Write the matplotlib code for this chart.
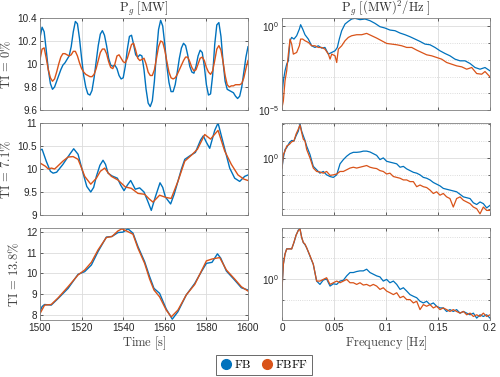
import numpy as np
import matplotlib
matplotlib.use("Agg")
import matplotlib.pyplot as plt
from matplotlib.ticker import FuncFormatter, NullFormatter
from matplotlib.lines import Line2D

plt.rcParams['mathtext.fontset'] = 'cm'
plt.rcParams['font.family'] = ['Liberation Sans', 'DejaVu Sans']

BLUE = '#0072BD'
ORANGE = '#D95319'

# ---------------- time series (Time [s], P_g [MW]) ----------------
t_top = list(range(1500, 1601))
top_fb = [10.23, 10.32, 10.28, 10.12, 9.95, 9.83, 9.78, 9.80, 9.85, 9.90,
          9.95, 9.99, 10.01, 10.04, 10.07, 10.15, 10.28, 10.37, 10.35, 10.22,
          10.05, 9.90, 9.80, 9.74, 9.73, 9.77, 9.88, 10.02, 10.16, 10.26,
          10.29, 10.25, 10.16, 10.05, 9.99, 9.98, 9.99, 9.96, 9.90, 9.87,
          9.88, 9.98, 10.13, 10.24, 10.25, 10.17, 10.08, 10.06, 10.08, 10.07,
          9.95, 9.78, 9.66, 9.63, 9.68, 9.85, 10.10, 10.30, 10.38, 10.33,
          10.17, 9.98, 9.84, 9.76, 9.76, 9.82, 9.93, 10.05, 10.14, 10.18,
          10.16, 10.08, 9.98, 9.93, 9.92, 9.98, 10.07, 10.12, 10.10, 9.98,
          9.82, 9.73, 9.74, 9.90, 10.17, 10.34, 10.36, 10.24, 10.02, 9.85,
          9.78, 9.77, 9.76, 9.75, 9.72, 9.70, 9.72, 9.80, 9.93, 10.06, 10.15]
top_fbff = [10.04, 10.13, 10.14, 10.05, 9.95, 9.88, 9.85, 9.87, 9.93, 10.00,
            10.06, 10.09, 10.09, 10.08, 10.07, 10.08, 10.11, 10.11, 10.07, 10.01,
            9.96, 9.93, 9.91, 9.90, 9.89, 9.89, 9.91, 9.96, 10.03, 10.10,
            10.13, 10.13, 10.09, 10.02, 9.97, 9.96, 10.00, 10.07, 10.08, 10.05,
            10.02, 10.01, 10.05, 10.11, 10.17, 10.18, 10.12, 10.05, 10.03, 10.04,
            10.05, 10.00, 9.93, 9.90, 9.90, 9.95, 10.05, 10.15, 10.20, 10.19,
            10.12, 10.02, 9.93, 9.88, 9.87, 9.88, 9.91, 9.95, 9.99, 10.03,
            10.06, 10.06, 10.02, 9.97, 9.94, 9.95, 10.00, 10.05, 10.06, 10.03,
            9.97, 9.93, 9.91, 9.94, 10.03, 10.13, 10.16, 10.12, 10.02, 9.90,
            9.82, 9.80, 9.81, 9.81, 9.82, 9.82, 9.82, 9.83, 9.88, 9.96, 10.03]

t_mid_fb = [1500, 1501, 1503, 1505, 1506.3, 1508, 1511, 1514.3, 1516.2, 1518.3,
            1520.7, 1522.5, 1524.4, 1525.8, 1527.1, 1528.8, 1530.3, 1531.5, 1532.7, 1534.6,
            1537.2, 1538.8, 1540.4, 1542, 1543.6, 1545.8, 1547.9, 1550, 1551.8, 1553.5,
            1555.5, 1557.7, 1559, 1560.3, 1562.8, 1564.5, 1566.3, 1568, 1569.6, 1572.5,
            1574.7, 1577.2, 1578.5, 1580, 1581.6, 1584, 1585.6, 1588, 1591.2, 1593.6,
            1596, 1598.4, 1600]
mid_fb = [10.41, 10.43, 10.17, 9.95, 9.91, 9.93, 10.10, 10.32, 10.44, 10.32,
          9.91, 9.62, 9.50, 9.60, 9.84, 10.08, 10.19, 10.10, 9.91, 9.85,
          9.80, 9.65, 9.53, 9.65, 9.75, 9.56, 9.59, 9.50, 9.30, 9.10,
          9.40, 9.70, 9.60, 9.39, 9.24, 9.45, 9.73, 10.00, 10.21, 10.30,
          10.36, 10.63, 10.72, 10.58, 10.45, 10.84, 11.00, 10.58, 10.02, 9.80,
          9.73, 9.84, 9.87]
t_mid_fbff = [1500, 1502.6, 1504, 1505.5, 1507, 1508, 1511, 1513.5, 1515.9, 1518.3,
              1520, 1521.5, 1524.4, 1527.1, 1529, 1531.1, 1532.7, 1534.3, 1537.5, 1541,
              1543.9, 1547.1, 1550.3, 1552.5, 1554.3, 1557.5, 1560.7, 1563.1, 1566.3, 1569.6,
              1572.8, 1575.7, 1579.2, 1582, 1585.6, 1588.8, 1592, 1595.2, 1598, 1600]
mid_fbff = [10.13, 10.06, 10.00, 10.02, 10.00, 10.04, 10.17, 10.26, 10.27, 10.21,
            10.02, 9.84, 9.67, 9.80, 9.95, 10.02, 9.92, 9.84, 9.76, 9.61,
            9.58, 9.47, 9.45, 9.35, 9.28, 9.43, 9.38, 9.36, 9.73, 10.17,
            10.30, 10.43, 10.75, 10.65, 10.84, 10.39, 10.10, 9.87, 9.78, 9.75]

t_bot_fb = [1500, 1501, 1502.2, 1505.4, 1508.7, 1513.5, 1518.3, 1521.5, 1524.7, 1527.9,
            1531.9, 1534.6, 1537.5, 1539.9, 1542.3, 1544.7, 1547.1, 1550.3, 1552.7, 1554.8,
            1557.5, 1560.7, 1563.6, 1566.3, 1570.3, 1574.4, 1577.6, 1580, 1582.7, 1585.3,
            1586.9, 1589.6, 1593.6, 1596.8, 1600]
bot_fb = [8.15, 8.40, 8.50, 8.47, 8.79, 9.28, 9.96, 10.09, 10.41, 11.06,
          11.76, 11.79, 11.98, 12.00, 12.16, 11.95, 11.30, 10.57, 9.85, 9.28,
          9.04, 8.28, 7.79, 8.15, 8.96, 9.52, 10.09, 10.49, 10.54, 10.95,
          10.74, 10.12, 9.68, 9.31, 9.20]
t_bot_fbff = [1500, 1502.2, 1505.4, 1508.7, 1513.5, 1518.3, 1521.5, 1524.7, 1527.9, 1531.9,
              1534.6, 1537.5, 1539.4, 1541.5, 1544.7, 1547.1, 1550.3, 1552.7, 1554.8, 1557.5,
              1560.7, 1563.1, 1566.3, 1570.3, 1574.4, 1577.6, 1580, 1582.7, 1586.4, 1589.6,
              1593.6, 1596.8, 1600]
bot_fbff = [8.06, 8.47, 8.50, 8.82, 9.36, 9.93, 10.17, 10.54, 11.14, 11.74,
            11.79, 12.06, 12.16, 12.06, 11.90, 11.22, 10.49, 9.73, 9.20, 8.87,
            8.23, 7.90, 8.23, 8.96, 9.47, 10.12, 10.61, 10.70, 10.77, 10.17,
            9.73, 9.36, 9.15]

# ---------------- spectra (Frequency [Hz], log10 PSD) ----------------
f_top_fb = [0.0, 0.0013, 0.0029, 0.0045, 0.0061, 0.0077, 0.0093, 0.0115, 0.0141, 0.0167,
            0.0179, 0.0199, 0.0221, 0.0253, 0.0285, 0.0317, 0.0349, 0.0381, 0.0413, 0.0446,
            0.0478, 0.0510, 0.0532, 0.0551, 0.0574, 0.0606, 0.0638, 0.0670, 0.0702, 0.0750,
            0.0798, 0.0846, 0.0894, 0.0942, 0.0990, 0.1038, 0.1087, 0.1135, 0.1183, 0.1231,
            0.1279, 0.1327, 0.1375, 0.1423, 0.1471, 0.1519, 0.1567, 0.1615, 0.1663, 0.1712,
            0.1760, 0.1808, 0.1856, 0.1904, 0.1952, 0.2000]
lp_top_fb = [-4.06, -3.26, -2.66, -2.26, -2.06, -0.86, -0.66, -0.76, -0.56, -0.16,
             0.10, -0.16, -0.50, -0.76, -1.16, -1.26, -1.16, -1.30, -1.26, -1.66,
             -1.56, -1.46, -1.26, -0.76, -0.26, 0.14, 0.30, 0.44, 0.48, 0.40,
             0.44, 0.34, 0.18, -0.02, -0.10, -0.22, -0.26, -0.40, -0.50, -0.62,
             -0.76, -0.90, -1.06, -1.10, -1.26, -1.46, -1.62, -1.76, -1.96, -2.06,
             -2.06, -2.22, -2.46, -2.56, -2.46, -2.66]
f_top_fbff = [0.0, 0.0013, 0.0029, 0.0045, 0.0061, 0.0077, 0.0093, 0.0109, 0.0141, 0.0167,
              0.0179, 0.0199, 0.0221, 0.0253, 0.0285, 0.0317, 0.0349, 0.0381, 0.0413, 0.0446,
              0.0462, 0.0478, 0.0510, 0.0526, 0.0542, 0.0574, 0.0606, 0.0638, 0.0670, 0.0718,
              0.0766, 0.0814, 0.0862, 0.0910, 0.0958, 0.1006, 0.1054, 0.1103, 0.1151, 0.1199,
              0.1247, 0.1295, 0.1343, 0.1391, 0.1439, 0.1487, 0.1535, 0.1583, 0.1631, 0.1679,
              0.1728, 0.1776, 0.1824, 0.1872, 0.1920, 0.1952, 0.2000]
lp_top_fbff = [-4.86, -4.46, -3.26, -2.66, -1.66, -0.76, -1.06, -1.66, -1.56, -1.16,
               -0.76, -0.76, -0.86, -0.96, -1.16, -1.16, -1.26, -1.26, -1.36, -1.66,
               -1.96, -1.66, -1.76, -2.16, -1.36, -1.16, -0.86, -0.66, -0.56, -0.50,
               -0.50, -0.42, -0.56, -0.70, -0.86, -1.02, -1.06, -1.10, -1.16, -1.26,
               -1.26, -1.42, -1.56, -1.70, -1.76, -1.86, -1.96, -2.16, -2.26, -2.36,
               -2.42, -2.56, -2.46, -2.82, -2.86, -2.70, -3.02]

f_grid = [0.0, 0.0013, 0.0029, 0.0045, 0.0071, 0.0093, 0.0115, 0.0135, 0.0157, 0.0173,
          0.0189, 0.0205, 0.0221, 0.0237, 0.0269, 0.0301, 0.0333, 0.0365, 0.0397, 0.0429,
          0.0462, 0.0494, 0.0526, 0.0558, 0.0590, 0.0622, 0.0654, 0.0686, 0.0718, 0.0750,
          0.0782, 0.0814, 0.0846, 0.0878, 0.0910, 0.0942, 0.0974, 0.1006, 0.1038, 0.1071,
          0.1103, 0.1135, 0.1167, 0.1199, 0.1231, 0.1263, 0.1295, 0.1327, 0.1359, 0.1391,
          0.1423, 0.1455, 0.1487, 0.1519, 0.1551, 0.1583, 0.1615, 0.1647, 0.1679, 0.1712,
          0.1744, 0.1776, 0.1808, 0.1840, 0.1872, 0.1904, 0.1936, 0.1968, 0.2000]
lp_mid_fb = [-0.6, 0.0, 0.5, 0.6, 0.9, 1.03, 1.0, 1.3, 1.58, 2.02,
             1.58, 1.3, 1.03, 0.7, 0.2, -0.5, -0.7, -0.9, -0.8, -1.0,
             -1.1, -1.15, -1.0, -0.35, -0.1, 0.1, 0.25, 0.33, 0.33, 0.35,
             0.4, 0.4, 0.35, 0.25, 0.15, -0.1, 0.0, -0.2, -0.25, -0.3,
             -0.35, -0.55, -0.5, -0.65, -0.75, -0.85, -0.9, -1.0, -1.15, -1.2,
             -1.3, -1.45, -1.55, -1.65, -1.8, -1.85, -1.9, -1.95, -2.0, -2.15,
             -2.3, -2.35, -2.4, -2.65, -2.75, -2.6, -2.7, -2.95, -2.8]
lp_mid_fbff = [-0.6, 0.2, 0.4, 0.7, 0.8, 0.95, 1.0, 1.4, 1.7, 1.94,
               1.5, 1.1, 1.0, 0.5, 0.0, -0.6, -0.8, -0.83, -0.9, -0.8,
               -1.03, -1.0, -0.95, -0.8, -0.8, -0.7, -0.6, -0.55, -0.6, -0.55,
               -0.5, -0.45, -0.55, -0.6, -0.63, -0.75, -0.8, -0.95, -0.9, -1.1,
               -1.15, -1.2, -1.3, -1.3, -1.4, -1.4, -1.7, -1.6, -1.7, -1.75,
               -1.9, -2.1, -2.0, -2.2, -2.1, -2.3, -2.4, -2.9, -2.4, -2.3,
               -2.5, -2.6, -2.7, -2.9, -3.0, -3.3, -2.9, -3.1, -3.1]
lp_bot_fb = [-0.5, 0.7, 1.2, 1.45, 1.45, 1.45, 1.75, 2.1, 2.35, 2.42,
             2.0, 1.75, 1.65, 1.5, 1.1, 0.7, -0.1, -0.26, -0.05, 0.0,
             -0.34, -0.23, -0.26, -0.1, -0.06, 0.15, 0.31, 0.31, 0.36, 0.39,
             0.39, 0.47, 0.31, 0.23, 0.15, 0.1, -0.1, -0.02, -0.18, -0.1,
             -0.26, -0.5, -0.42, -0.58, -0.75, -0.83, -0.9, -1.07, -1.15, -1.07,
             -1.23, -1.15, -1.31, -1.39, -1.39, -1.56, -1.47, -1.56, -1.47, -1.64,
             -1.56, -1.64, -1.72, -1.64, -1.88, -1.72, -1.8, -1.72, -1.88]
lp_bot_fbff = [-0.5, 0.71, 1.2, 1.44, 1.45, 1.44, 1.77, 2.1, 2.33, 2.4,
               2.0, 1.75, 1.68, 1.5, 1.12, 0.71, -0.1, -0.1, -0.02, 0.06,
               -0.26, -0.18, -0.1, -0.18, -0.1, -0.02, -0.18, -0.18, -0.26, -0.18,
               -0.29, -0.26, -0.34, -0.26, -0.34, -0.5, -0.42, -0.58, -0.66, -0.75,
               -0.66, -0.9, -0.83, -0.99, -0.99, -1.15, -1.07, -1.47, -1.23, -1.31,
               -1.23, -1.39, -1.31, -1.47, -1.39, -1.47, -1.56, -1.47, -1.56, -1.64,
               -1.56, -1.72, -1.64, -1.8, -1.72, -1.8, -1.64, -1.8, -1.72]

row_labels = [r'$\mathrm{TI}\,=\,0\%$', r'$\mathrm{TI}\,=\,7.1\%$', r'$\mathrm{TI}\,=\,13.8\%$']
time_ticks = [1500, 1520, 1540, 1560, 1580, 1600]
freq_ticks = [0, 0.05, 0.1, 0.15, 0.2]
left_yticks = [[9.6, 9.8, 10, 10.2, 10.4], [9, 9.5, 10, 10.5, 11], [8, 9, 10, 11, 12]]
left_ylims = [(9.6, 10.4), (9.0, 11.0), (7.75, 12.2)]
right_ylims = [(1e-5, 10**0.5), (10**-3.37, 10**2.06), (10**-1.97, 10**2.45)]
right_major = [[1e-5, 1e0], [1e0], [1e0]]
right_minor = [[1e-4, 1e-3, 1e-2, 1e-1], [1e-3, 1e-2, 1e-1, 1e1, 1e2], [1e-1, 1e1, 1e2]]

series_t = [(t_top, top_fb, t_top, top_fbff),
            (t_mid_fb, mid_fb, t_mid_fbff, mid_fbff),
            (t_bot_fb, bot_fb, t_bot_fbff, bot_fbff)]
series_f = [(f_top_fb, lp_top_fb, f_top_fbff, lp_top_fbff),
            (f_grid, lp_mid_fb, f_grid, lp_mid_fbff),
            (f_grid, lp_bot_fb, f_grid, lp_bot_fbff)]

fig = plt.figure(figsize=(5.0, 3.77), dpi=100)
W, H = 500.0, 377.0
rows_px = [(18, 110), (123, 215), (228, 320)]
AX_C = '#262626'
TXT_C = '#262626'


def style(ax):
    for s in ax.spines.values():
        s.set_color('#808080')
        s.set_linewidth(0.6)
    ax.tick_params(which='both', direction='in', length=2.5, width=0.5,
                   colors=AX_C, labelsize=7.2, top=True, right=True, pad=2)
    ax.tick_params(which='minor', length=1.5)
    ax.grid(True, which='major', color='#dcdcdc', linewidth=0.6)
    ax.set_axisbelow(True)


gfmt = FuncFormatter(lambda v, p: ('%g' % v))

for r in range(3):
    top, bot = rows_px[r]
    y0 = (H - bot) / H
    h = (bot - top) / H
    axl = fig.add_axes([40 / W, y0, 208 / W, h])
    axr = fig.add_axes([282 / W, y0, 208 / W, h])

    tb, vb, to, vo = series_t[r]
    axl.plot(tb, vb, color=BLUE, lw=1.0)
    axl.plot(to, vo, color=ORANGE, lw=1.0)
    axl.set_xlim(1500, 1600)
    axl.set_ylim(*left_ylims[r])
    axl.set_xticks(time_ticks)
    axl.set_yticks(left_yticks[r])
    axl.yaxis.set_major_formatter(gfmt)
    style(axl)
    axl.set_ylabel(row_labels[r], fontsize=9, color='#404040', labelpad=3)

    fb, lb, fo, lo = series_f[r]
    axr.semilogy(fb, [10 ** v for v in lb], color=BLUE, lw=0.9)
    axr.semilogy(fo, [10 ** v for v in lo], color=ORANGE, lw=0.9)
    axr.set_xlim(0, 0.2)
    axr.set_ylim(*right_ylims[r])
    axr.set_xticks(freq_ticks)
    axr.set_yticks(right_major[r])
    axr.set_yticks(right_minor[r], minor=True)
    axr.yaxis.set_minor_formatter(NullFormatter())
    axr.xaxis.set_major_formatter(gfmt)
    style(axr)
    axr.grid(True, which='minor', axis='y', color='#d0d0d0', linewidth=0.6, linestyle=':')

    if r < 2:
        axl.set_xticklabels([])
        axr.set_xticklabels([])
    else:
        axl.set_xlabel(r'$\mathrm{Time\ [s]}$', fontsize=9, color='#404040', labelpad=1)
        axr.set_xlabel(r'$\mathrm{Frequency\ [Hz]}$', fontsize=9, color='#404040', labelpad=1)
    if r == 0:
        axl.set_title(r'$\mathrm{P}_g\ \mathrm{[MW]}$', fontsize=9, color='#303030', pad=3)
        axr.set_title(r'$\mathrm{P}_g\ [(\mathrm{MW})^2/\mathrm{Hz}\ ]$', fontsize=9, color='#303030', pad=3)

handles = [Line2D([], [], color=BLUE, marker='o', linestyle='none', markersize=7),
           Line2D([], [], color=ORANGE, marker='o', linestyle='none', markersize=7)]
leg = fig.legend(handles, [r'$\mathrm{FB}$', r'$\mathrm{FBFF}$'], loc='center',
                 bbox_to_anchor=(264 / W, (H - 365) / H), ncol=2, fontsize=8.5,
                 frameon=True, fancybox=False, edgecolor='#262626', handletextpad=0.2,
                 columnspacing=0.8, borderpad=0.35, handlelength=1.0)
leg.get_frame().set_linewidth(0.6)

fig.savefig('out.png', dpi=100, facecolor='white')
